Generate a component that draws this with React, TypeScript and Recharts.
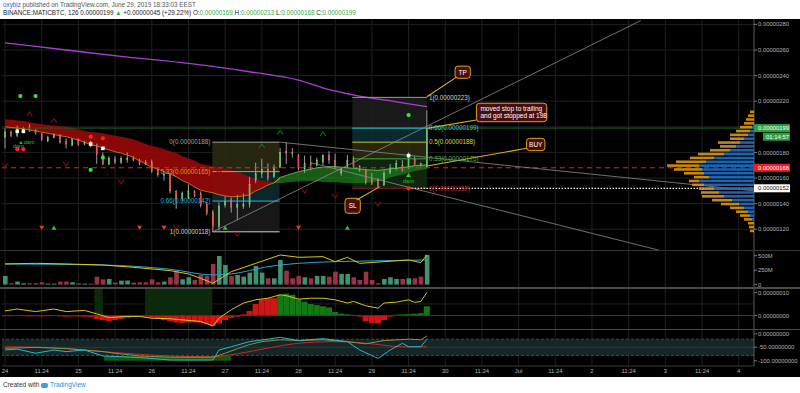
import React from "react";
import {
  ComposedChart, Bar, Line, Area, Scatter, XAxis, YAxis, CartesianGrid,
  ReferenceLine, ReferenceArea, Cell,
} from "recharts";

// prices in satoshi (1e-8 BTC), one candle = 126 min
const OPEN = [192,196,193,197,200,197.5,194.5,189,191.5,193, 188.5,185.5,190.5,186.5,187,185.5,178,171,174.5,172, 175,175.5,173.5,172.5,172.5,166.5,162.3,162.5,149.5,144, 144.5,149.5,148,139.5,133,122,139,143,137,138, 139.5,158.5,163.5,167,161,168.5,181,180,178,167, 171.5,170,172.5,178,173.6,164,169,174,169,166.3, 159,158.5,154.5,164.5,167.5,170,169,175,171.5,169];
const HIGH = [199,197,201,200,202,198,195,193,195,194.5, 191,191,191,189,189,187,180,177,177,177, 180,177,175,174,174.5,167.5,165,163,150.5,149.5, 155,150.5,149.5,141,135,141,146,145,147,148, 161,172,175,171.5,170.5,183.5,188,183.5,178.6,177.5, 177.5,176,178.5,181,179,168,178,177,170,167, 164,160,166,171,174,174,180,177,172,213];
const LOW = [183,192,192,195,196,194,189,188,191,187, 183,185,185,185.5,184,171,170,170,171,171, 172,173,170,170,164,161,158,148,136,142, 144,145,137,131,118,119,137,133,127,136, 137,156,160,158,160,168,171,176,166,164, 166,169,170,171,167,162,168,168,165,155, 154.5,152.5,154,163,166,165,167,170,169,168];
const CLOSE = [196,193,199,198,197,195,190,191.5,194,188, 186.5,190.5,186,188,185,178.5,171,175.5,172.5,175.5, 175.5,174,171,171,165.5,162.5,162.7,150,144,148, 150,146,138.5,132.5,122,138,142,137,139.5,139.5, 155,163.5,166.5,160,168.5,180,179.5,179,167.5,171.5, 170,174,177.5,174,167.6,167,174,169,166.3,157, 156,154,163.7,168,171.5,166.5,174.5,170.5,169.5,199];

const EMA_FAST = [200,199.5,199,198.5,197.5,196.7,195.8,195,194,193, 192.3,191,189.5,188,186,185,183.5,182,180.5,179.5, 178,176,173.5,171,168.5,167,165,163,161,158, 156,153,150.5,149.4,148.5,147,146,145.4,145.5,146, 147,150,152,154.6,156.2,160.5,162,163.5,165,166, 167,168,168.5,168.9,168.9,168.5,168,167.6,167,166.5, 166.3,166,166.5,167.3,167.6,168.2,168.8,169.7,170,170.2];
const EMA_SLOW = [206,205.5,205,204.5,203.5,202.7,202,201.5,201,200.5, 200,199,198,197,196,195.5,195,194,193,192.3, 191.5,190,188.5,186.5,185,184,182.5,181,179.5,177, 175.5,173.5,171,170.2,169,168,167,166,164.5,163, 161,159,158,157.2,156.7,156,156.5,157,157.2,157.5, 157.5,157.3,157,156.8,156.7,156.3,156,155.9,156,156.2, 156.7,157.5,158.5,160.5,161.5,162.8,164,165.5,166.3,167.1];

const MA_LONG = [{ i: 0, v: 265.5 }, { i: 10, v: 260 }, { i: 20, v: 254.5 }, { i: 30, v: 249.5 }, { i: 40, v: 243 }, { i: 48, v: 236.5 }, { i: 53, v: 229 }, { i: 58, v: 224 }, { i: 64, v: 219.5 }, { i: 69, v: 215.7 }];

// volume, millions
const VOLUME = [150,23,52,23,23,23,40,17,17,52, 52,40,23,17,17,138,92,98,35,69, 69,35,40,40,92,40,52,127,242,92, 127,80,167,150,357,495,340,150,167,138, 207,322,207,109,109,426,242,109,150,127, 109,150,150,138,224,184,184,127,80,224, 80,23,98,127,98,98,109,109,138,512];
const VOL_MA_FAST = [{ i: 0, v: 357 }, { i: 5, v: 368 }, { i: 10, v: 357 }, { i: 16, v: 339 }, { i: 21, v: 299 }, { i: 27, v: 242 }, { i: 30, v: 184 }, { i: 32, v: 109 }, { i: 34, v: 23 }, { i: 37, v: 224 }, { i: 41, v: 368 }, { i: 45, v: 512 }, { i: 48, v: 472 }, { i: 52, v: 483 }, { i: 54, v: 397 }, { i: 56, v: 472 }, { i: 58, v: 368 }, { i: 62, v: 397 }, { i: 66, v: 426 }, { i: 68, v: 380 }, { i: 69, v: 512 }];
const VOL_MA_SLOW = [{ i: 0, v: 357 }, { i: 16, v: 339 }, { i: 27, v: 265 }, { i: 34, v: 167 }, { i: 37, v: 184 }, { i: 43, v: 311 }, { i: 48, v: 368 }, { i: 54, v: 397 }, { i: 59, v: 408 }, { i: 69, v: 426 }];

// MACD-style pane (satoshi)
const MACD_HIST = [-0.3,-0.3,-0.2,-0.3,-0.4,-0.3,-0.4,-0.3,-0.2,-0.4, -0.5,-0.4,-0.4,-0.5,-0.6,-1.5,-2,-2.5,-2,-1.5, -1,-0.7,-0.5,-0.5,-1,-1.5,-2,-2.5,-3,-3.2, -3,-3,-3.2,-3.8,-4.5,-3.5,-2,-1,-0.5,0.5, 2,5,7,7.5,7.5,9,9.5,9,7,6, 5,4.5,4,3.5,1.5,0.8,0.5,0.3,-0.5,-2.5, -3.2,-3.5,-2,-0.5,0.3,0.5,0.6,0.8,1,4];
const HIST_GREEN_RANGES = [[45, 57], [64, 69]];
const MACD_LINE = [{ i: 0, v: 2 }, { i: 2, v: 2.8 }, { i: 5, v: 1.7 }, { i: 8, v: 2.8 }, { i: 10, v: 1.7 }, { i: 13, v: 2.2 }, { i: 15, v: 0.7 }, { i: 17, v: -0.9 }, { i: 20, v: -0.4 }, { i: 22, v: -0.4 }, { i: 24, v: -1.2 }, { i: 27, v: -1.4 }, { i: 29, v: -1.9 }, { i: 32, v: -2.6 }, { i: 34, v: -4.5 }, { i: 35, v: -1.2 }, { i: 37, v: 2.5 }, { i: 39, v: 5.4 }, { i: 41, v: 6.8 }, { i: 43, v: 7.5 }, { i: 45, v: 9 }, { i: 46, v: 8.6 }, { i: 48, v: 7.1 }, { i: 50, v: 7.5 }, { i: 52, v: 7.5 }, { i: 54, v: 6.8 }, { i: 56, v: 5.4 }, { i: 57, v: 6.1 }, { i: 59, v: 4.2 }, { i: 61, v: 3.2 }, { i: 62, v: 5.4 }, { i: 64, v: 5.8 }, { i: 66, v: 6.8 }, { i: 67, v: 5.7 }, { i: 68, v: 6.1 }, { i: 69, v: 10 }];
const MACD_SHADE = [[14.6, 16], [22.9, 33.9]];

// oscillator pane
const OSC_OLIVE = [{ i: 0, v: -54 }, { i: 5, v: -50 }, { i: 10, v: -55 }, { i: 16, v: -66 }, { i: 18, v: -72 }, { i: 22, v: -82 }, { i: 27, v: -87 }, { i: 32, v: -87 }, { i: 34, v: -87 }, { i: 36, v: -72 }, { i: 38, v: -55 }, { i: 40, v: -40 }, { i: 42, v: -29 }, { i: 45, v: -22 }, { i: 48, v: -25 }, { i: 52, v: -22 }, { i: 56, v: -29 }, { i: 59, v: -37 }, { i: 62, v: -25 }, { i: 66, v: -20 }, { i: 68, v: -22 }, { i: 69, v: -8 }];
const OSC_CYAN = [{ i: 0, v: -60 }, { i: 2, v: -57 }, { i: 5, v: -72 }, { i: 8, v: -60 }, { i: 10, v: -66 }, { i: 13, v: -60 }, { i: 16, v: -82 }, { i: 22, v: -88 }, { i: 27, v: -97 }, { i: 34, v: -97 }, { i: 35, v: -60 }, { i: 37, v: -48 }, { i: 40, v: -29 }, { i: 43, v: -20 }, { i: 45, v: -13 }, { i: 48, v: -25 }, { i: 52, v: -18 }, { i: 56, v: -29 }, { i: 58, v: -60 }, { i: 61, v: -91 }, { i: 63, v: -60 }, { i: 65, v: -35 }, { i: 66, v: -48 }, { i: 68, v: -48 }, { i: 69, v: -20 }];
const OSC_RED = [{ i: 0, v: -48 }, { i: 10, v: -54 }, { i: 16, v: -66 }, { i: 27, v: -82 }, { i: 34, v: -85 }, { i: 38, v: -74 }, { i: 43, v: -53 }, { i: 48, v: -35 }, { i: 54, v: -29 }, { i: 59, v: -35 }, { i: 65, v: -48 }, { i: 69, v: -48 }];

// visible range volume profile: price row, up / down volume
const PROFILE_P = [212,209,206,203,200,197,194,191,188,185,182,179,176,173,170,167,164,161,158,155,152,149,146,143,140,137,134,131,128,125,122,119];
const PROFILE_UP = [0,0,0,0,2,4,6,10,14,18,24,30,40,48,55,52,50,45,55,50,40,35,30,22,15,10,6,4,2,0,0,0];
const PROFILE_DN = [4,6,8,10,12,14,18,14,22,16,20,26,24,30,32,28,20,15,10,12,15,18,22,20,18,14,12,10,8,6,5,4];

// drawings
const FIB_LEFT = { x1: 33.9, x2: 44.9, levels: [188, 165, 142, 118], ratios: ["0", "0.33", "0.66", "1"] };
const FIB_RIGHT = { x1: 56.8, x2: 69, levels: [223, 199, 188, 175, 152], ratios: ["1", "0.66", "0.5", "0.33", "0"] };
const TREND_LINES = [
  [{ i: 34, p: 118 }, { i: 104, p: 283 }],
  [{ i: 45, p: 188 }, { i: 122.5, p: 150 }],
  [{ i: 50, p: 172 }, { i: 110, p: 100 }],
];
const CALLOUTS = [
  { text: ["TP"], x1: 73.6, x2: 76.1, y1: 237.9, y2: 247.4, from: { i: 73.9, p: 239 }, to: { i: 69, p: 223.5 } },
  { text: ["moved stop to trailing", "and got stopped at 198"], x1: 77.1, x2: 88.6, y1: 204, y2: 218.4, from: { i: 77.1, p: 205.3 }, to: { i: 69, p: 198.8 } },
  { text: ["BUY"], x1: 85.3, x2: 88.3, y1: 181.4, y2: 191, from: { i: 85.3, p: 183.2 }, to: { i: 69, p: 169.4 } },
  { text: ["SL"], x1: 55.6, x2: 58.1, y1: 132.5, y2: 144.2, from: { i: 57.5, p: 142.9 }, to: { i: 61.3, p: 153.3 } },
];
const SIG_DOWN = [{ i: 6, v: 121.2 }, { i: 22, v: 121.2 }, { i: 26, v: 121.2 }, { i: 48, v: 121.2 }];
const SIG_UP = [{ i: 8, v: 121.2 }, { i: 36, v: 121.2 }, { i: 56, v: 121.2 }, { i: 66, v: 162.4 }];
const DOTS_GREEN = [{ i: 2.5, v: 224 }, { i: 5, v: 224 }, { i: 14, v: 166.3 }, { i: 16, v: 175.9 }, { i: 66, v: 209.2 }];
const DOTS_RED = [{ i: 2, v: 182.5 }, { i: 3, v: 182.5 }, { i: 14, v: 192.3 }, { i: 16, v: 191 }, { i: 66, v: 152 }];
const SQUARES_WHITE = [{ i: 2, v: 196.5 }, { i: 3, v: 196.5 }, { i: 14, v: 186.6 }, { i: 16, v: 183.2 }, { i: 66, v: 177.5 }];
const SIG_TEXT = [{ i: 3.5, v: 188.5, t: "▲daro" }, { i: 2.2, v: 184.8, t: "daro" }, { i: 66, v: 157.8, t: "daro" }];
const CHEV_UP = [{ i: 4, v: 210 }, { i: 8, v: 204.8 }, { i: 20, v: 188.4 }, { i: 35, v: 165 }];
const CHEV_UP_GREEN = [{ i: 42, v: 185 }, { i: 45, v: 195.7 }, { i: 52, v: 194.4 }];
const CHEV_DOWN = [{ i: 0, v: 170.2 }, { i: 10, v: 171 }, { i: 19, v: 157.2 }, { i: 28, v: 121.6 }, { i: 38, v: 116.3 }, { i: 49, v: 149.9 }, { i: 54, v: 146 }, { i: 61, v: 139.8 }];

const X_TICKS = [0, 6, 12, 18, 24, 30, 36, 42, 48, 54, 60, 66, 72, 78, 84, 90, 96, 102, 108, 114, 120];
const X_LABELS = ["24", "11:24", "25", "11:24", "26", "11:24", "27", "11:24", "28", "11:24", "29", "11:24", "30", "11:24", "Jul", "11:24", "2", "11:24", "3", "11:24", "4"];
const PRICE_TICKS = [120, 140, 160, 180, 220, 240, 260, 280];
const LAST_PRICE = 199;
const STOP_PRICE = 168;
const TRAIL_PRICE = 152;
const COUNTDOWN = "01:14:57";

const X_DOMAIN = [-0.5, 122.5];
const P_DOMAIN = [103.8, 284.2];
const FONT = "'Liberation Sans', Arial, sans-serif";
const AX_FS = 5.9;
const TXT = "#b4b4b4";
const GRID = "#202020";
const UP = "#4fbf57";
const DOWN = "#e2403a";

const fmt8 = (v: number) => (v / 1e8).toFixed(8);

const ROWS = OPEN.map((o, i) => {
  const f = EMA_FAST[i], s = EMA_SLOW[i];
  const bull = f > s;
  const prevBull = i > 0 ? EMA_FAST[i - 1] > EMA_SLOW[i - 1] : bull;
  const nextBull = i < OPEN.length - 1 ? EMA_FAST[i + 1] > EMA_SLOW[i + 1] : bull;
  const band = [Math.min(f, s), Math.max(f, s)];
  const green = HIST_GREEN_RANGES.some(([a, b]) => i >= a && i <= b);
  return {
    i, o, h: HIGH[i], l: LOW[i], c: CLOSE[i], range: [LOW[i], HIGH[i]],
    redBand: !bull || !prevBull ? band : null,
    greenBand: bull || nextBull ? band : null,
    fastRed: !bull || !prevBull ? f : null,
    fastGreen: bull || nextBull ? f : null,
    vol: VOLUME[i], up: CLOSE[i] >= o,
    hist: MACD_HIST[i], histGreen: green,
  };
});

const PROFILE = PROFILE_P.map((p, k) => ({ p, up: PROFILE_UP[k], dn: PROFILE_DN[k] }));

function Candle(props: any) {
  const { x, width, payload } = props;
  let { y, height } = props;
  if (height < 0) { y += height; height = -height; }
  const { o, h, l, c } = payload;
  const k = h === l ? 0 : height / (h - l);
  const yo = y + (h - o) * k;
  const yc = y + (h - c) * k;
  const top = Math.min(yo, yc);
  const bh = Math.max(1, Math.abs(yc - yo));
  const cx = x + width / 2;
  const up = c >= o;
  return (
    <g>
      <line x1={cx} x2={cx} y1={y} y2={y + height} stroke="#9a9a9a" strokeWidth={1} />
      <rect x={x} y={top} width={width} height={bh} fill={up ? UP : DOWN} stroke={up ? "#8fe08f" : "#ff7a6e"} strokeWidth={0.4} />
    </g>
  );
}

function PriceTick(props: any) {
  const { x, y, payload } = props;
  const v = payload.value;
  const bx = x - 4;
  const t = { fontSize: AX_FS, fontFamily: FONT };
  if (v === LAST_PRICE) {
    return (
      <g>
        <rect x={bx} y={y - 4} width={36} height={8} fill="#2f9e3f" />
        <text x={x} y={y + 2.1} fill="#fff" {...t}>{fmt8(v)}</text>
        <rect x={bx + 9} y={y + 4.6} width={27} height={8} fill="#2f9e3f" />
        <text x={bx + 12} y={y + 10.7} fill="#fff" {...t}>{COUNTDOWN}</text>
      </g>
    );
  }
  if (v === STOP_PRICE || v === TRAIL_PRICE) {
    const red = v === STOP_PRICE;
    return (
      <g>
        <rect x={bx} y={y - 4} width={36} height={8} fill={red ? "#ee1c24" : "#ffffff"} />
        <text x={x} y={y + 2.1} fill={red ? "#fff" : "#111"} {...t}>{fmt8(v)}</text>
      </g>
    );
  }
  return (
    <g>
      <line x1={bx} x2={bx + 3} y1={y} y2={y} stroke="#777" />
      <text x={x} y={y + 2.1} fill={TXT} {...t}>{fmt8(v)}</text>
    </g>
  );
}

const simpleTick = (fmt: (v: number) => string) => (props: any) => {
  const { x, y, payload } = props;
  return (
    <g>
      <line x1={x - 4} x2={x - 1} y1={y} y2={y} stroke="#777" />
      <text x={x} y={y + 2.1} fill={TXT} fontSize={AX_FS} fontFamily={FONT}>{fmt(payload.value)}</text>
    </g>
  );
};

const triShape = (dir: number, color: string) => (props: any) => {
  const { cx, cy } = props;
  const d = dir > 0
    ? `M${cx - 2.5},${cy + 2} L${cx + 2.5},${cy + 2} L${cx},${cy - 2.2} Z`
    : `M${cx - 2.5},${cy - 2} L${cx + 2.5},${cy - 2} L${cx},${cy + 2.2} Z`;
  return <path d={d} fill={color} />;
};
const dotShape = (color: string) => (props: any) => <circle cx={props.cx} cy={props.cy} r={2.1} fill={color} />;
const squareShape = (color: string) => (props: any) => <rect x={props.cx - 1.8} y={props.cy - 1.8} width={3.6} height={3.6} fill={color} />;
const textShape = (props: any) => (
  <text x={props.cx} y={props.cy + 2} textAnchor="middle" fill="#2fb82f" fontSize={5.5} fontFamily={FONT}>{props.payload.t}</text>
);
const chevShape = (dir: number, color: string) => (props: any) => {
  const { cx, cy } = props;
  const d = dir > 0 ? `M${cx - 3},${cy + 2} L${cx},${cy - 2} L${cx + 3},${cy + 2}` : `M${cx - 3},${cy - 2} L${cx},${cy + 2} L${cx + 3},${cy - 2}`;
  return <path d={d} fill="none" stroke={color} strokeWidth={1.1} />;
};

const calloutLabel = (lines: string[]) => (props: any) => {
  const { x, y, width, height } = props.viewBox;
  const lh = 7.2;
  const multi = lines.length > 1;
  const tx = multi ? x + 4 : x + width / 2;
  const y0 = y + height / 2 - ((lines.length - 1) * lh) / 2 + 2.3;
  return (
    <text x={tx} textAnchor={multi ? "start" : "middle"} fill="#fff" fontSize={6.5} fontFamily={FONT}>
      {lines.map((t, k) => <tspan key={k} x={tx} y={y0 + k * lh}>{t}</tspan>)}
    </text>
  );
};

const LEFT_FIB_COLORS = ["#a0a0a0", "#d6a21e", "#29b6d8", "#cfcfcf"];
const LEFT_FIB_FILLS = ["#2a2a12", "#0c2a2e", "#1a1a1a"];
const RIGHT_FIB_COLORS = ["#9a9a9a", "#26c6da", "#c9c62e", "#3fae3f", "#8b1a1a"];
const RIGHT_FIB_FILLS = ["#1c1c1c", "#0b2e33", "#2a2a12", "#102a10"];
const RIGHT_FIB_TEXT = ["#cfcfcf", "#26c6da", "#d9d640", "#4caf50", "#c62828"];

export default function App() {
  const margin = { top: 0, right: 0, bottom: 0, left: 2 };
  const yAxisCommon = {
    orientation: "right" as const, width: 46, type: "number" as const,
    axisLine: { stroke: "#5a5a5a" }, tickLine: false, tickSize: 3, tickMargin: 1,
    interval: 0 as const, allowDataOverflow: true,
  };
  const xHidden = <XAxis type="number" dataKey="i" domain={X_DOMAIN} hide allowDataOverflow />;

  return (
    <div style={{ position: "relative", width: 800, height: 393, background: "#fff", overflow: "hidden", fontFamily: FONT }}>
      <style>{"body{margin:0}"}</style>
      <div style={{ position: "absolute", left: 3, top: 1, fontSize: 6.3, color: "#555", whiteSpace: "nowrap" }}>
        <span style={{ color: "#2962ff" }}>oxybiz</span> published on TradingView.com, June 29, 2019 18:33:03 EEST
      </div>
      <div style={{ position: "absolute", left: 3, top: 9, fontSize: 6.3, color: "#222", whiteSpace: "nowrap" }}>
        BINANCE:MATICBTC, 126 0.00000199 <span style={{ color: "#3aa53a" }}>▲</span> +0.00000045 (+29.22%) O:<span style={{ color: "#3aa53a" }}>0.00000169</span> H:<span style={{ color: "#3aa53a" }}>0.00000213</span> L:<span style={{ color: "#3aa53a" }}>0.00000168</span> C:<span style={{ color: "#3aa53a" }}>0.00000199</span>
      </div>

      <div style={{ position: "absolute", left: 0, top: 19, width: 800, height: 358, background: "#000" }} />

      {/* price pane */}
      <div style={{ position: "absolute", left: 0, top: 19 }}>
        <ComposedChart width={800} height={231} data={ROWS} margin={margin}>
          <CartesianGrid stroke={GRID} horizontalValues={[120, 140, 160, 180, 200, 220, 240, 260, 280]} verticalValues={X_TICKS} />
          {xHidden}
          <YAxis {...yAxisCommon} domain={P_DOMAIN} ticks={[...PRICE_TICKS, LAST_PRICE, STOP_PRICE, TRAIL_PRICE]} tick={(p: any) => <PriceTick {...p} />} />

          {LEFT_FIB_FILLS.map((f, k) => (
            <ReferenceArea key={"lf" + k} x1={FIB_LEFT.x1} x2={FIB_LEFT.x2} y1={FIB_LEFT.levels[k + 1]} y2={FIB_LEFT.levels[k]} fill={f} fillOpacity={0.9} stroke="none" ifOverflow="visible" />
          ))}
          {RIGHT_FIB_FILLS.map((f, k) => (
            <ReferenceArea key={"rf" + k} x1={FIB_RIGHT.x1} x2={FIB_RIGHT.x2} y1={FIB_RIGHT.levels[k + 1]} y2={FIB_RIGHT.levels[k]} fill={f} fillOpacity={0.9} stroke="none" ifOverflow="visible" />
          ))}

          <ReferenceLine y={LAST_PRICE} stroke="#1d5e27" strokeWidth={1} />
          <ReferenceLine y={STOP_PRICE} stroke="#e52525" strokeWidth={1} strokeDasharray="5 4" />

          <Area dataKey="redBand" fill="#950808" fillOpacity={0.92} stroke="none" isAnimationActive={false} />
          <Area dataKey="greenBand" fill="#1f7a1f" fillOpacity={0.75} stroke="none" isAnimationActive={false} />
          <Line dataKey="fastRed" stroke="#c77a18" strokeWidth={0.9} dot={false} isAnimationActive={false} />
          <Line dataKey="fastGreen" stroke="#63c24a" strokeWidth={0.9} dot={false} isAnimationActive={false} />
          <Line data={MA_LONG} dataKey="v" stroke="#a83fd0" strokeWidth={1.3} dot={false} type="monotone" isAnimationActive={false} />

          {FIB_LEFT.levels.map((p, k) => (
            <ReferenceLine key={"fl" + k} segment={[{ x: FIB_LEFT.x1, y: p }, { x: FIB_LEFT.x2, y: p }]} stroke={LEFT_FIB_COLORS[k]} strokeWidth={1}
              ifOverflow="visible"
              label={{ value: `${FIB_LEFT.ratios[k]}(${fmt8(p)})`, position: "left", offset: 2, fill: LEFT_FIB_COLORS[k], fontSize: 6.3, fontFamily: FONT }} />
          ))}
          {FIB_RIGHT.levels.map((p, k) => (
            <ReferenceLine key={"fr" + k} segment={[{ x: FIB_RIGHT.x1, y: p }, { x: FIB_RIGHT.x2, y: p }]} stroke={RIGHT_FIB_COLORS[k]} strokeWidth={1}
              ifOverflow="visible"
              label={{ value: `${FIB_RIGHT.ratios[k]}(${fmt8(p)})`, position: "right", offset: 2, fill: RIGHT_FIB_TEXT[k], fontSize: 6.3, fontFamily: FONT }} />
          ))}
          <ReferenceLine segment={[{ x: 66, y: TRAIL_PRICE }, { x: 122.5, y: TRAIL_PRICE }]} stroke="#f0f0f0" strokeWidth={1.2} strokeDasharray="1.5 1.5" ifOverflow="visible" />

          {TREND_LINES.map((s, k) => (
            <ReferenceLine key={"tl" + k} segment={[{ x: s[0].i, y: s[0].p }, { x: s[1].i, y: s[1].p }]} stroke="#8c8c8c" strokeWidth={0.8} ifOverflow="hidden" />
          ))}

          <Bar dataKey="range" barSize={4} shape={(p: any) => <Candle {...p} />} isAnimationActive={false} />

          <Scatter data={SIG_DOWN} dataKey="v" shape={triShape(-1, "#e53935")} isAnimationActive={false} />
          <Scatter data={SIG_UP} dataKey="v" shape={triShape(1, "#34c134")} isAnimationActive={false} />
          <Scatter data={DOTS_GREEN} dataKey="v" shape={dotShape("#2ee62e")} isAnimationActive={false} />
          <Scatter data={DOTS_RED} dataKey="v" shape={dotShape("#ff2020")} isAnimationActive={false} />
          <Scatter data={SQUARES_WHITE} dataKey="v" shape={squareShape("#ffffff")} isAnimationActive={false} />
          <Scatter data={SIG_TEXT} dataKey="v" shape={textShape} isAnimationActive={false} />
          <Scatter data={CHEV_UP} dataKey="v" shape={chevShape(1, "#7a1010")} isAnimationActive={false} />
          <Scatter data={CHEV_UP_GREEN} dataKey="v" shape={chevShape(1, "#1b6b1b")} isAnimationActive={false} />
          <Scatter data={CHEV_DOWN} dataKey="v" shape={chevShape(-1, "#7a1010")} isAnimationActive={false} />

          {CALLOUTS.map((c, k) => (
            <ReferenceLine key={"cp" + k} segment={[{ x: c.from.i, y: c.from.p }, { x: c.to.i, y: c.to.p }]} stroke="#e0b020" strokeWidth={1.1} ifOverflow="visible" />
          ))}
          {CALLOUTS.map((c, k) => (
            <ReferenceArea key={"cb" + k} x1={c.x1} x2={c.x2} y1={c.y1} y2={c.y2} fill="#4a0c0c" fillOpacity={1} stroke="#d6a528" strokeWidth={1} radius={3} ifOverflow="visible" label={calloutLabel(c.text)} />
          ))}
        </ComposedChart>
      </div>

      {/* volume profile */}
      <div style={{ position: "absolute", left: 600, top: 19 }}>
        <ComposedChart layout="vertical" width={154} height={231} data={PROFILE} margin={{ top: 0, right: 0, bottom: 0, left: 0 }}>
          <XAxis type="number" hide reversed domain={[0, 154]} allowDataOverflow />
          <YAxis type="number" dataKey="p" hide reversed domain={P_DOMAIN} allowDataOverflow />
          <Bar dataKey="up" stackId="vp" fill="#1f6fc4" fillOpacity={0.9} barSize={2.6} isAnimationActive={false} />
          <Bar dataKey="dn" stackId="vp" fill="#d9971c" fillOpacity={0.9} barSize={2.6} isAnimationActive={false} />
        </ComposedChart>
      </div>

      {/* volume pane */}
      <div style={{ position: "absolute", left: 0, top: 251 }}>
        <ComposedChart width={800} height={36} data={ROWS} margin={margin}>
          <CartesianGrid stroke={GRID} horizontal={false} verticalValues={X_TICKS} />
          {xHidden}
          <YAxis {...yAxisCommon} domain={[-41.5, 581]} ticks={[0, 250, 500]} tick={simpleTick((v) => (v === 0 ? "0" : `${v}M`))} />
          <Bar dataKey="vol" barSize={4.6} isAnimationActive={false}>
            {ROWS.map((r) => <Cell key={r.i} fill={r.up ? "#3f9373" : "#9a3346"} />)}
          </Bar>
          <Line data={VOL_MA_SLOW} dataKey="v" stroke="#2aa6c9" strokeWidth={1} dot={false} type="monotone" isAnimationActive={false} />
          <Line data={VOL_MA_FAST} dataKey="v" stroke="#d8c81e" strokeWidth={1} dot={false} isAnimationActive={false} />
        </ComposedChart>
      </div>

      {/* macd pane */}
      <div style={{ position: "absolute", left: 0, top: 289 }}>
        <ComposedChart width={800} height={40} data={ROWS} margin={margin}>
          <CartesianGrid stroke={GRID} horizontalValues={[0, 5]} verticalValues={X_TICKS} />
          {xHidden}
          <YAxis {...yAxisCommon} domain={[-5.87, 11.5]} ticks={[0, 10]} tick={simpleTick((v) => fmt8(v))} />
          {MACD_SHADE.map(([a, b], k) => (
            <ReferenceArea key={k} x1={a} x2={b} y1={0} y2={11.5} fill="#0b2a0b" fillOpacity={1} stroke="none" />
          ))}
          <ReferenceLine y={0} stroke="#3a3a3a" />
          <Bar dataKey="hist" barSize={6} isAnimationActive={false}>
            {ROWS.map((r) => <Cell key={r.i} fill={r.histGreen ? "#137a13" : "#d01515"} />)}
          </Bar>
          <Line data={MACD_LINE} dataKey="v" stroke="#d4c61c" strokeWidth={1} dot={false} isAnimationActive={false} />
        </ComposedChart>
      </div>

      {/* oscillator pane + time axis */}
      <div style={{ position: "absolute", left: 0, top: 330 }}>
        <ComposedChart width={800} height={47} data={ROWS} margin={margin}>
          <CartesianGrid stroke={GRID} horizontal={false} verticalValues={X_TICKS} />
          <XAxis type="number" dataKey="i" domain={X_DOMAIN} allowDataOverflow ticks={X_TICKS} interval={0} height={11}
            tickFormatter={(v: number) => X_LABELS[X_TICKS.indexOf(v)]} tickLine={false} tickSize={0} tickMargin={3}
            axisLine={{ stroke: "#3a3a3a" }} tick={{ fill: TXT, fontSize: AX_FS, fontFamily: FONT }} />
          <YAxis {...yAxisCommon} domain={[-119.3, 14.1]} ticks={[0, -50, -100]} tick={simpleTick((v) => fmt8(v * 1e8))} />
          <ReferenceArea y1={-80} y2={-20} fill="#172a2a" fillOpacity={0.9} stroke="none" />
          <ReferenceLine y={-20} stroke="#3b4d4d" strokeDasharray="3 2" />
          <ReferenceLine y={-80} stroke="#3b4d4d" strokeDasharray="3 2" />
          <ReferenceLine y={-50} stroke="#2c3a3a" />
          <ReferenceArea x1={16.2} x2={37} y1={-100} y2={-82} fill="#1c7a1c" fillOpacity={0.7} stroke="none" />
          <Line data={OSC_RED} dataKey="v" stroke="#c62828" strokeWidth={1} dot={false} type="monotone" isAnimationActive={false} />
          <Line data={OSC_OLIVE} dataKey="v" stroke="#8f8f45" strokeWidth={1} dot={false} isAnimationActive={false} />
          <Line data={OSC_CYAN} dataKey="v" stroke="#2bb5c8" strokeWidth={1} dot={false} isAnimationActive={false} />
        </ComposedChart>
      </div>

      {/* pane separators */}
      <div style={{ position: "absolute", left: 0, top: 250, width: 800, height: 1, background: "#333" }} />
      <div style={{ position: "absolute", left: 0, top: 287, width: 800, height: 2, background: "#4b4b4b" }} />
      <div style={{ position: "absolute", left: 0, top: 329, width: 800, height: 1, background: "#4b4b4b" }} />

      <div style={{ position: "absolute", left: 3, top: 381, fontSize: 6.5, color: "#333", whiteSpace: "nowrap" }}>
        Created with <span style={{ display: "inline-block", width: 7, height: 5, background: "#3a9fe0", borderRadius: 2, verticalAlign: "middle" }} /> <span style={{ color: "#2a8fd8" }}>TradingView</span>
      </div>
    </div>
  );
}
